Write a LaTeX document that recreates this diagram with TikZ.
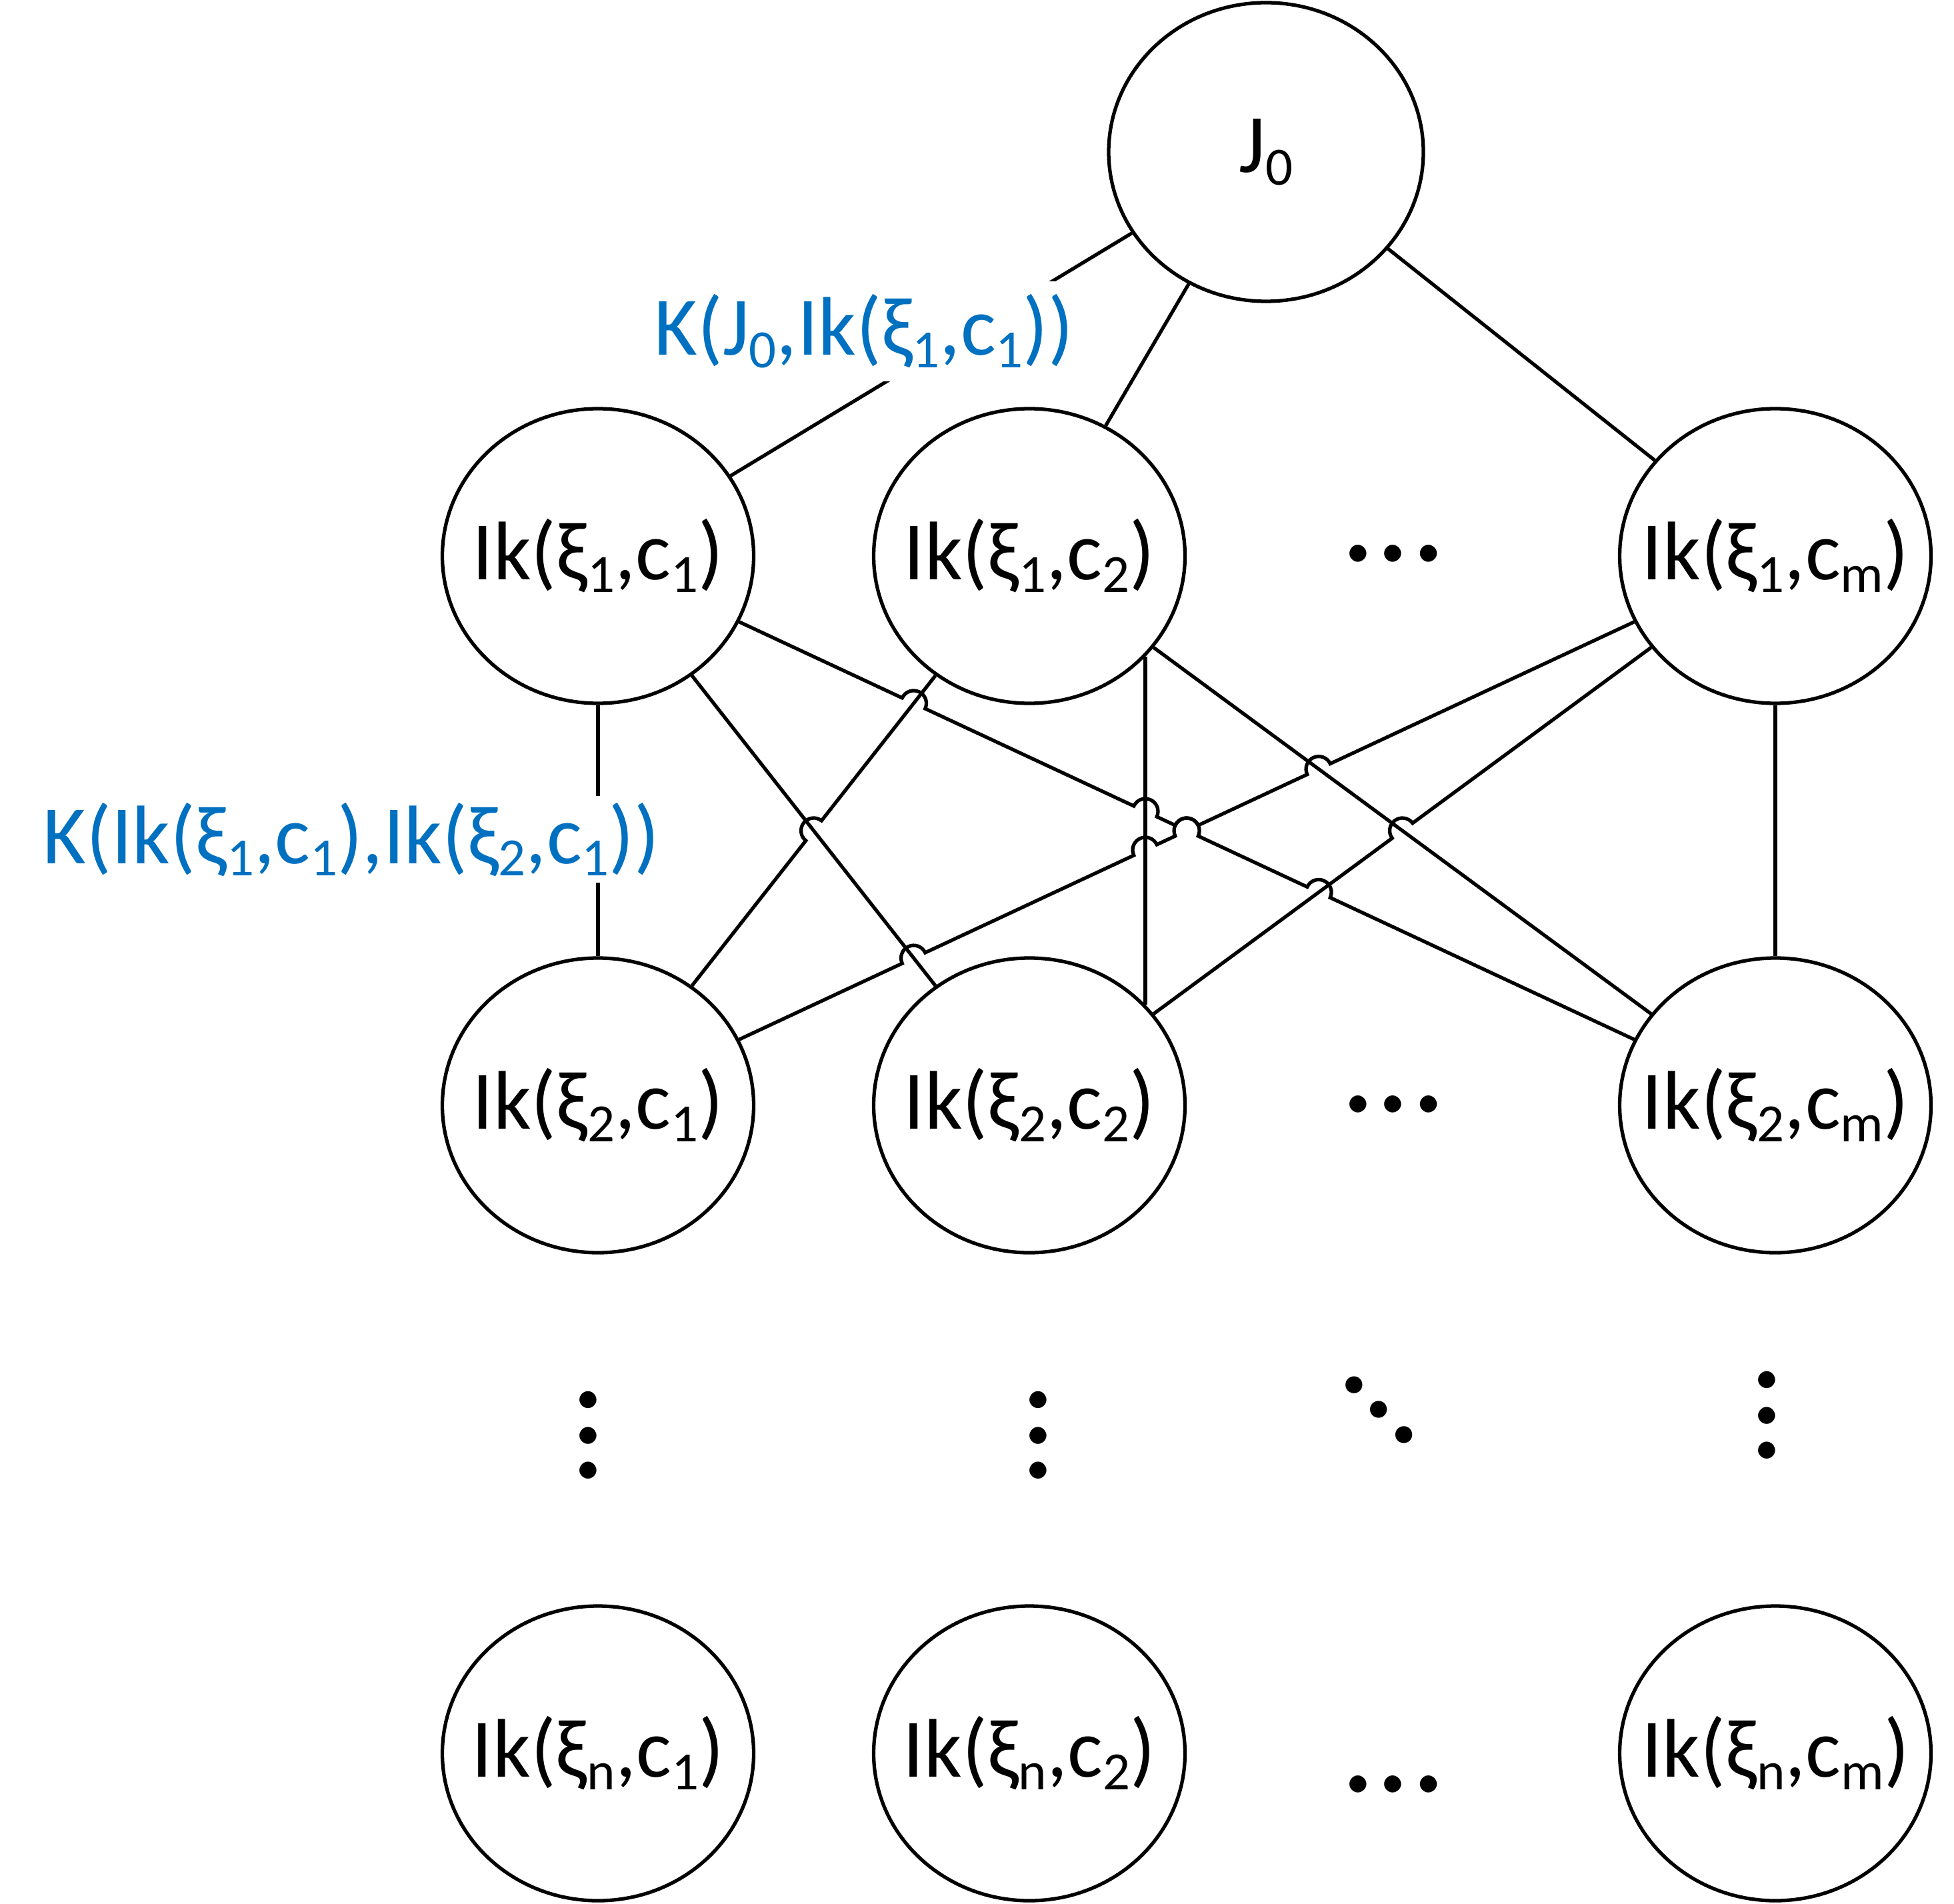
\documentclass[tikz,border=0pt]{standalone}
\usepackage{fontspec}
\setmainfont{Carlito}
\usetikzlibrary{shapes.geometric,calc,intersections}

\definecolor{kblue}{HTML}{0070C0}
\newcommand\sbs[1]{\raisebox{-0.15em}{\fontsize{23pt}{24pt}\selectfont #1}}
\newcommand\ik[2]{Ik(ξ\sbs{#1},c\sbs{#2})}
\def\hr{0.19cm}

\tikzset{
  st/.style={ellipse, draw, line width=1.5pt, minimum width=4.67cm, minimum height=4.42cm, inner xsep=-6mm},
  ln/.style={line width=1.5pt},
  lbl/.style={text=kblue, fill=white, inner sep=2mm},
  dotrow/.style={inner sep=0pt, font=\fontsize{60pt}{60pt}\selectfont},
}

\begin{document}
\begin{tikzpicture}[font=\fontsize{35.5pt}{40pt}\selectfont]
\useasboundingbox (0,0) rectangle (29.31,-28.56);

% nodes
\node[st, minimum width=4.72cm, minimum height=4.48cm] (j0) at (18.99,-2.28) {J\sbs{0}};
\node[st] (n11) at (8.97,-8.34) {\ik{1}{1}};
\node[st] (n12) at (15.44,-8.34) {\ik{1}{2}};
\node[st] (n1m) at (26.63,-8.34) {\ik{1}{m}};
\node[st] (n21) at (8.97,-16.58) {\ik{2}{1}};
\node[st] (n22) at (15.44,-16.58) {\ik{2}{2}};
\node[st] (n2m) at (26.63,-16.58) {\ik{2}{m}};
\node[st] (nn1) at (8.97,-26.30) {\ik{n}{1}};
\node[st] (nn2) at (15.44,-26.30) {\ik{n}{2}};
\node[st] (nnm) at (26.63,-26.30) {\ik{n}{m}};

% dots
\node[dotrow] (d1) at (20.90,-8.30) {…};
\node[dotrow] (d2) at (20.90,-16.56) {…};
\node[dotrow] (d3) at (20.90,-26.76) {…};
\node[dotrow, rotate=90] (v1) at (8.82,-21.53) {…};
\node[dotrow, rotate=90] (v2) at (15.57,-21.53) {…};
\node[dotrow, rotate=90] (v3) at (26.50,-21.23) {…};
\node[dotrow, rotate=-45] (dd) at (20.69,-21.15) {…};

% plain edges
\draw[ln] (j0) -- (n11);
\draw[ln] (j0) -- (n12);
\draw[ln] (j0) -- (n1m);
\draw[ln] (n11) -- (n21);
\draw[ln] (n1m) -- (n2m);
\draw[ln] (n11) -- (n22);
\draw[ln] (n12.-41) -- (n22.41);
\draw[ln] (n12) -- (n2m);

% crossings
\path[name path=pA] (n11.center) -- (n22.center);
\path[name path=pB] (n11.center) -- (n2m.center);
\path[name path=pC] (n21.center) -- (n12.center);
\path[name path=pD] (n12.-41) -- (n22.41);
\path[name path=pE] (n12.center) -- (n2m.center);
\path[name path=pF] (n21.center) -- (n1m.center);
\path[name path=pG] (n22.center) -- (n1m.center);
\path[name intersections={of=pB and pC, by=xBC}];
\path[name intersections={of=pB and pD, by=xBD}];
\path[name intersections={of=pB and pF, by=xBF}];
\path[name intersections={of=pB and pG, by=xBG}];
\path[name intersections={of=pA and pC, by=xAC}];
\path[name intersections={of=pA and pF, by=xAF}];
\path[name intersections={of=pD and pF, by=xDF}];
\path[name intersections={of=pE and pF, by=xEF}];
\path[name intersections={of=pE and pG, by=xEG}];

% edges with line jumps
\draw[ln] let \p1=($(n2m)-(n11)$), \n1={atan2(\y1,\x1)} in
  (n11) -- ($(xBC)!\hr!(n11)$) arc[start angle=\n1+180, end angle=\n1, radius=\hr]
  -- ($(xBD)!\hr!(n11)$) arc[start angle=\n1+180, end angle=\n1, radius=\hr]
  -- ($(xBF)!\hr!(n11)$) arc[start angle=\n1+180, end angle=\n1, radius=\hr]
  -- ($(xBG)!\hr!(n11)$) arc[start angle=\n1+180, end angle=\n1, radius=\hr]
  -- (n2m);
\draw[ln] let \p1=($(n12)-(n21)$), \n1={atan2(\y1,\x1)} in
  (n21) -- ($(xAC)!\hr!(n21)$) arc[start angle=\n1+180, end angle=\n1, radius=\hr]
  -- (n12);
\draw[ln] let \p1=($(n1m)-(n21)$), \n1={atan2(\y1,\x1)} in
  (n21) -- ($(xAF)!\hr!(n21)$) arc[start angle=\n1+180, end angle=\n1, radius=\hr]
  -- ($(xDF)!\hr!(n21)$) arc[start angle=\n1+180, end angle=\n1, radius=\hr]
  -- ($(xBF)!\hr!(n21)$) arc[start angle=\n1+180, end angle=\n1, radius=\hr]
  -- ($(xEF)!\hr!(n21)$) arc[start angle=\n1+180, end angle=\n1, radius=\hr]
  -- (n1m);
\draw[ln] let \p1=($(n1m)-(n22)$), \n1={atan2(\y1,\x1)} in
  (n22) -- ($(xEG)!\hr!(n22)$) arc[start angle=\n1+180, end angle=\n1, radius=\hr]
  -- (n1m);

% edge labels
\node[lbl, anchor=base] (k1) at (12.96,-5.33) {K(J\sbs{0},\ik{1}{1})};
\node[lbl, anchor=base, inner sep=1mm] (k2) at (5.27,-12.95) {K(\ik{1}{1},\ik{2}{1})};
\end{tikzpicture}
\end{document}
